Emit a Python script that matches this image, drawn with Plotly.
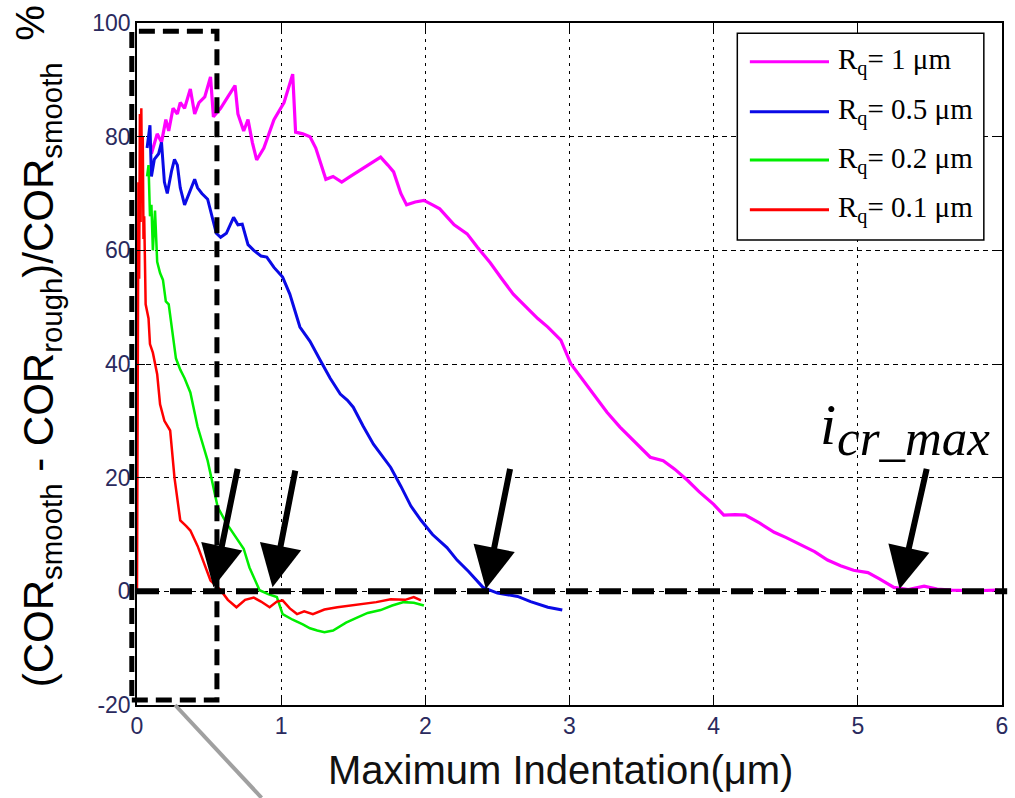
import plotly.graph_objects as go

# Relative change of the coefficient of restitution vs. maximum indentation
# for four surface roughness levels (Rq).

rq_labels = ["R<sub>q</sub>= 1 μm", "R<sub>q</sub>= 0.5 μm",
             "R<sub>q</sub>= 0.2 μm", "R<sub>q</sub>= 0.1 μm"]
rq_colors = ["#ff00ff", "#0a0ae6", "#00ee00", "#ff0000"]

x_rq1 = [0.10, 0.14, 0.17, 0.20, 0.22, 0.25, 0.28, 0.30, 0.33, 0.37, 0.40, 0.43,
         0.47, 0.51, 0.53, 0.58, 0.63, 0.68, 0.70, 0.74, 0.77, 0.80, 0.83, 0.88,
         0.95, 1.02, 1.08, 1.10, 1.15, 1.20, 1.24, 1.29, 1.31, 1.36, 1.42, 1.48,
         1.53, 1.60, 1.69, 1.74, 1.78, 1.83, 1.87, 1.93, 1.99, 2.05, 2.10, 2.20,
         2.29, 2.36, 2.45, 2.53, 2.61, 2.70, 2.78, 2.85, 2.94, 3.01, 3.10, 3.17,
         3.26, 3.35, 3.40, 3.48, 3.56, 3.65, 3.73, 3.82, 3.90, 4.00, 4.07, 4.15,
         4.22, 4.32, 4.42, 4.50, 4.60, 4.70, 4.79, 4.88, 4.97, 5.07, 5.15, 5.25,
         5.35, 5.46, 5.55, 5.65, 5.80, 5.97]
y_rq1 = [77.0, 80.5, 79.0, 83.0, 81.0, 85.0, 84.0, 86.0, 85.0, 88.4, 84.0, 86.0,
         87.0, 90.5, 83.5, 85.0, 87.0, 89.0, 84.0, 81.0, 83.0, 79.0, 75.9, 78.0,
         83.0, 86.0, 91.0, 80.8, 80.5, 80.0, 78.0, 74.0, 72.5, 73.0, 72.0, 73.0,
         73.8, 75.0, 76.4, 75.0, 73.8, 70.0, 68.0, 68.5, 68.8, 68.0, 67.3, 64.5,
         62.9, 60.6, 57.8, 55.0, 52.3, 50.0, 48.0, 46.5, 44.2, 40.0, 37.0, 34.5,
         31.5, 28.9, 27.6, 25.5, 23.6, 23.0, 21.5, 19.5, 17.5, 15.3, 13.4, 13.5,
         13.4, 12.0, 10.4, 9.5, 8.3, 7.0, 5.5, 4.5, 3.7, 3.3, 2.2, 0.7,
         0.3, 0.9, 0.4, 0.2, 0.1, 0.2]

x_rq05 = [0.07, 0.09, 0.10, 0.12, 0.15, 0.17, 0.19, 0.21, 0.24, 0.26, 0.28, 0.30,
          0.33, 0.36, 0.40, 0.42, 0.45, 0.49, 0.52, 0.55, 0.58, 0.62, 0.67, 0.70,
          0.73, 0.77, 0.81, 0.86, 0.90, 0.95, 1.01, 1.06, 1.13, 1.20, 1.27, 1.34,
          1.41, 1.46, 1.50, 1.57, 1.64, 1.69, 1.76, 1.83, 1.90, 1.97, 2.05, 2.15,
          2.22, 2.30, 2.40, 2.50, 2.64, 2.73, 2.85, 2.95]
y_rq05 = [78.0, 82.0, 73.0, 76.0, 77.0, 79.0, 72.0, 70.0, 74.0, 76.0, 75.0, 71.0,
          68.0, 70.0, 72.5, 71.0, 70.0, 69.0, 66.0, 63.0, 62.3, 63.0, 65.8, 64.5,
          64.6, 61.0, 60.0, 59.0, 58.8, 57.0, 55.3, 52.3, 46.5, 44.0, 40.7, 37.5,
          34.7, 33.6, 32.4, 29.0, 25.9, 24.1, 21.8, 18.5, 15.0, 12.5, 10.0, 7.7,
          5.5, 3.5, 0.7, -0.3, -0.9, -1.8, -2.8, -3.3]

x_rq02 = [0.07, 0.08, 0.09, 0.10, 0.11, 0.125, 0.14, 0.16, 0.18, 0.20, 0.22, 0.25,
          0.27, 0.30, 0.33, 0.37, 0.42, 0.49, 0.53, 0.56, 0.62, 0.69, 0.74, 0.78,
          0.85, 0.91, 0.97, 1.01, 1.08, 1.15, 1.20, 1.25, 1.30, 1.36, 1.45, 1.53,
          1.60, 1.69, 1.77, 1.85, 1.92, 1.99]
y_rq02 = [73.0, 75.0, 66.0, 68.0, 60.0, 67.0, 58.0, 56.0, 54.8, 51.0, 50.5, 45.0,
          41.0, 39.0, 37.5, 35.0, 29.0, 23.0, 18.0, 14.8, 12.0, 9.5, 7.5, 4.2,
          0.2, -0.5, -1.0, -4.0, -5.0, -5.8, -6.5, -6.9, -7.2, -6.9, -5.5, -4.6,
          -3.8, -3.3, -2.5, -1.9, -2.0, -2.5]

x_rq01 = [0.00, 0.005, 0.01, 0.015, 0.02, 0.025, 0.03, 0.035, 0.04, 0.045, 0.05,
          0.06, 0.08, 0.09, 0.11, 0.14, 0.16, 0.19, 0.23, 0.26, 0.30, 0.34, 0.37,
          0.42, 0.47, 0.51, 0.58, 0.63, 0.69, 0.75, 0.81, 0.86, 0.92, 0.97, 1.01,
          1.06, 1.11, 1.16, 1.22, 1.30, 1.39, 1.48, 1.57, 1.66, 1.76, 1.86, 1.92,
          1.97]
y_rq01 = [0.0, 40.0, 72.0, 55.0, 84.0, 65.0, 85.0, 70.0, 80.0, 62.0, 66.0,
          50.5, 48.0, 43.5, 42.0, 38.2, 32.9, 30.0, 28.3, 20.0, 12.5, 11.5, 10.7,
          8.0, 4.5, 1.9, 0.2, -1.5, -2.8, -1.5, -1.1, -1.8, -2.8, -1.8, -1.6,
          -3.0, -4.0, -3.5, -4.0, -3.2, -2.8, -2.5, -2.3, -1.9, -1.4, -1.5, -1.0,
          -1.6]

# Critical indentation points marked with arrows (tip x, tip y, tail x, tail y)
arrow_tip_x = [0.53, 0.94, 2.42, 5.29]
arrow_tip_y = [0.7, 0.7, 0.4, 0.4]
arrow_tail_x = [0.70, 1.10, 2.59, 5.48]
arrow_tail_y = [21.8, 21.5, 21.8, 21.8]

x_ticks = [0, 1, 2, 3, 4, 5, 6]
x_ticktext = ["0", "1", "2", "3", "4", "5", "6"]
y_ticks = [-20, 0, 20, 40, 60, 80, 100]
y_ticktext = ["-20", "0", "20", "40", "60", "80", "100"]

series = [(x_rq1, y_rq1, 3.2), (x_rq05, y_rq05, 3.0),
          (x_rq02, y_rq02, 2.5), (x_rq01, y_rq01, 2.5)]

fig = go.Figure()
for (xs, ys, w), name, col in zip(series, rq_labels, rq_colors):
    fig.add_trace(go.Scatter(x=xs, y=ys, mode="lines", name=name,
                             line=dict(color=col, width=w), showlegend=False))

SANS = "Liberation Sans, Arial, sans-serif"
SERIF = "Liberation Serif, Times New Roman, serif"
TICK_FONT = dict(family=SANS, size=23, color="#2a2a5e")

fig.update_layout(
    width=1015, height=798,
    margin=dict(l=137, r=13, t=23, b=93),
    paper_bgcolor="white", plot_bgcolor="white",
    xaxis=dict(range=[0, 6], tickvals=x_ticks, ticktext=x_ticktext, showgrid=True,
               gridcolor="black", gridwidth=1.3, griddash="3px,5px", zeroline=False,
               showline=True, linecolor="black", linewidth=1.5, mirror="ticks",
               ticks="inside", ticklen=8, tickcolor="black", tickfont=TICK_FONT,
               automargin=False),
    yaxis=dict(range=[-20, 100], tickvals=y_ticks, ticktext=y_ticktext, showgrid=True,
               gridcolor="black", gridwidth=1.3, griddash="5px,4px", zeroline=False,
               showline=True, linecolor="black", linewidth=1.5, mirror="ticks",
               ticks="inside", ticklen=8, tickcolor="black", tickfont=TICK_FONT,
               automargin=False),
)

shapes = []
# Zero line (thick dashed)
shapes.append(dict(type="line", xref="paper", yref="y", x0=0, x1=1.006, y0=0, y1=0,
                   line=dict(color="black", width=6, dash="22px,11px"), layer="above"))
# Highlight box near zero indentation
shapes.append(dict(type="rect", xref="paper", yref="paper", x0=-0.006, x1=0.0924,
                   y0=0.0073, y1=0.988, line=dict(color="black", width=5, dash="16px,8px"),
                   layer="above"))
# Grey connector leaving the box
shapes.append(dict(type="line", xref="paper", yref="paper", x0=0.044, y0=0.0,
                   x1=0.144, y1=-0.136, line=dict(color="#a0a0a0", width=4)))
# Legend box
shapes.append(dict(type="rect", xref="paper", yref="paper", x0=0.694, x1=0.979,
                   y0=0.682, y1=0.985, fillcolor="white",
                   line=dict(color="black", width=1.5), layer="above"))

legend_y = [0.943, 0.870, 0.799, 0.726]
annotations = []
for name, col, ly in zip(rq_labels, rq_colors, legend_y):
    shapes.append(dict(type="line", xref="paper", yref="paper", x0=0.7085, x1=0.800,
                       y0=ly, y1=ly, line=dict(color=col, width=3), layer="above"))
    annotations.append(dict(text=name, xref="paper", yref="paper", x=0.8085, y=ly,
                            xanchor="left", yanchor="middle", showarrow=False,
                            font=dict(family=SERIF, size=29, color="black")))

for tx, ty, ax, ay in zip(arrow_tip_x, arrow_tip_y, arrow_tail_x, arrow_tail_y):
    annotations.append(dict(x=tx, y=ty, ax=ax, ay=ay, xref="x", yref="y",
                            axref="x", ayref="y", text="", showarrow=True,
                            arrowhead=2, arrowsize=1.4, arrowwidth=6,
                            arrowcolor="black", standoff=0))

# i_cr_max label
annotations.append(dict(text="<i>i</i>", xref="paper", yref="paper", x=0.799, y=0.412,
                        xanchor="center", yanchor="middle", showarrow=False,
                        font=dict(family=SERIF, size=58, color="black")))
annotations.append(dict(text="<i>cr_max</i>", xref="paper", yref="paper", x=0.807, y=0.392,
                        xanchor="left", yanchor="middle", showarrow=False,
                        font=dict(family=SERIF, size=51, color="black")))

# Axis titles
annotations.append(dict(text="(COR<sub>smooth</sub> - COR<sub>rough</sub>)/COR<sub>smooth</sub>",
                        xref="paper", yref="paper", x=-0.111, y=0.485, textangle=-90,
                        xanchor="center", yanchor="middle", showarrow=False,
                        font=dict(family=SANS, size=42, color="black")))
annotations.append(dict(text="%", xref="paper", yref="paper", x=-0.124, y=1.0,
                        textangle=-90, xanchor="center", yanchor="middle",
                        showarrow=False, font=dict(family=SANS, size=40, color="black")))
annotations.append(dict(text="Maximum Indentation(μm)", xref="paper", yref="paper",
                        x=0.49, y=-0.096, xanchor="center", yanchor="middle",
                        showarrow=False, font=dict(family=SANS, size=40, color="#111111")))

fig.update_layout(shapes=shapes, annotations=annotations)
fig.write_html("out.html")
